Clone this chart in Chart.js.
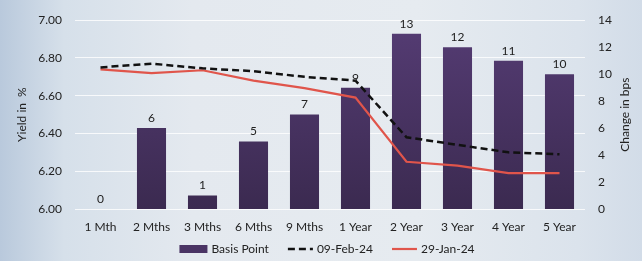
<!DOCTYPE html>
<html>
<head>
<meta charset="utf-8">
<script src="https://cdn.jsdelivr.net/npm/chart.js@4/dist/chart.umd.min.js"></script>
<style>
html,body{margin:0;padding:0;}
body{width:642px;height:261px;overflow:hidden;
background:linear-gradient(to right,#b9c9dc 0%,#d6e0ea 10%,#e4e9ef 30%,#e6ebf0 65%,#dbe3ec 90%,#d2dce8 100%);}
#wrap{position:relative;width:642px;height:261px;}
</style>
</head>
<body>
<div id="wrap"><canvas id="c" width="642" height="261"></canvas></div>
<script>
const categories = ["1 Mth","2 Mths","3 Mths","6 Mths","9 Mths","1 Year","2 Year","3 Year","4 Year","5 Year"];
const basisPoint = [0,6,1,5,7,9,13,12,11,10];
const yieldFeb09 = [6.75,6.77,6.745,6.73,6.70,6.68,6.38,6.34,6.30,6.29];
const yieldJan29 = [6.74,6.72,6.735,6.68,6.64,6.59,6.25,6.23,6.19,6.19];
const leftTicks = [6.00,6.20,6.40,6.60,6.80,7.00];
const rightTicks = [0,2,4,6,8,10,12,14];
const leftTitle = "Yield in  %";
const rightTitle = "Change in bps";

const FONT = "Lato, 'Open Sans', sans-serif";

const barLabels = {
  id:'barLabels',
  afterDatasetsDraw(chart){
    const ctx = chart.ctx;
    const meta = chart.getDatasetMeta(0);
    ctx.save();
    ctx.font = "12px " + FONT;
    ctx.fillStyle = "#222";
    ctx.textAlign = "center";
    ctx.textBaseline = "bottom";
    meta.data.forEach((el,i)=>{
      ctx.fillText(String(chart.data.datasets[0].data[i]), el.x, el.y - 4);
    });
    ctx.restore();
  }
};

const extras = {
  id:'extras',
  afterDraw(chart){
    const ctx = chart.ctx;
    const area = chart.chartArea;
    const midY = (area.top + area.bottom)/2;
    ctx.save();
    ctx.font = "12px " + FONT;
    ctx.fillStyle = "#222";
    ctx.textAlign = "center";
    ctx.textBaseline = "middle";
    ctx.save(); ctx.translate(22, midY); ctx.rotate(-Math.PI/2); ctx.fillText(leftTitle,0,0); ctx.restore();
    ctx.save(); ctx.translate(625, midY); ctx.rotate(-Math.PI/2); ctx.fillText(rightTitle,0,0); ctx.restore();
    const ds = chart.data.datasets;
    const symW = 28, gapText = 4, gapItem = 16;
    const widths = ds.map(d => symW + gapText + ctx.measureText(d.label).width);
    const total = widths.reduce((a,b)=>a+b,0) + gapItem*(ds.length-1);
    let x = 327 - total/2;
    const y = 249;
    ctx.textAlign = "left";
    ds.forEach((d,i)=>{
      if(d.type === 'bar'){
        ctx.fillStyle = '#4a3464';
        ctx.fillRect(x, y-4, symW, 8);
      } else {
        ctx.strokeStyle = d.borderColor;
        ctx.lineWidth = d.borderWidth;
        ctx.setLineDash(d.borderDash || []);
        ctx.beginPath(); ctx.moveTo(x+3, y); ctx.lineTo(x+symW, y); ctx.stroke();
        ctx.setLineDash([]);
      }
      ctx.fillStyle = "#222";
      ctx.fillText(d.label, x + symW + gapText, y);
      x += widths[i] + gapItem;
    });
    ctx.restore();
  }
};

function barGradient(context){
  const chart = context.chart;
  const area = chart.chartArea;
  if(!area) return '#48325f';
  const g = chart.ctx.createLinearGradient(0, area.top, 0, area.bottom);
  g.addColorStop(0,'#553c74');
  g.addColorStop(1,'#3b2a50');
  return g;
}

new Chart(document.getElementById('c'),{
  data:{
    labels: categories,
    datasets:[
      {type:'bar', label:'Basis Point', data:basisPoint, yAxisID:'y1', order:2,
       backgroundColor: barGradient, borderWidth:0,
       categoryPercentage:1, barPercentage:0.57},
      {type:'line', label:'09-Feb-24', data:yieldFeb09, yAxisID:'y', order:0,
       borderColor:'#111', backgroundColor:'#111', borderWidth:2.5, borderDash:[7,4],
       pointRadius:0, tension:0},
      {type:'line', label:'29-Jan-24', data:yieldJan29, yAxisID:'y', order:1,
       borderColor:'#e0554b', backgroundColor:'#e0554b', borderWidth:2.2,
       pointRadius:0, tension:0}
    ]
  },
  options:{
    responsive:false, animation:false,
    layout:{padding:{left:0,right:0,top:14,bottom:0}},
    plugins:{ legend:{display:false}, tooltip:{enabled:false} },
    scales:{
      x:{grid:{display:false}, border:{display:false},
        afterFit(s){ s.height = 52; },
        ticks:{font:{family:FONT,size:12}, color:'#222', padding:3, maxRotation:0}},
      y:{position:'left', min:6, max:7,
        afterFit(s){ s.width = 75; },
        afterBuildTicks(axis){ axis.ticks = leftTicks.map(v=>({value:v})); },
        ticks:{font:{family:FONT,size:12}, color:'#222', padding:13, callback:v=>Number(v).toFixed(2)},
        grid:{color:'rgba(255,255,255,0.8)', lineWidth:1, drawTicks:false}, border:{display:false}},
      y1:{position:'right', min:0, max:14,
        afterFit(s){ s.width = 57; },
        afterBuildTicks(axis){ axis.ticks = rightTicks.map(v=>({value:v})); },
        ticks:{font:{family:FONT,size:12}, color:'#222', padding:13},
        grid:{display:false, drawTicks:false}, border:{display:false}}
    }
  },
  plugins:[barLabels, extras]
});
</script>
</body>
</html>
